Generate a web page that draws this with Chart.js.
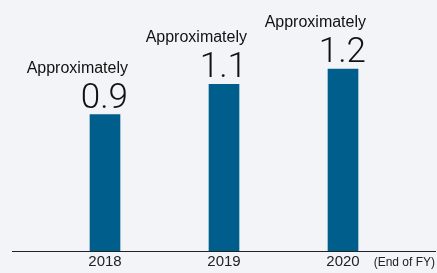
<!DOCTYPE html>
<html>
<head>
<meta charset="utf-8">
<script src="https://cdn.jsdelivr.net/npm/chart.js@4"></script>
<style>
  html, body { margin: 0; padding: 0; background: #f3f4f7; }
  #wrap { width: 437px; height: 273px; }
</style>
</head>
<body>
<div id="wrap"><canvas id="chart"></canvas></div>
<script>
const years = [2018, 2019, 2020];
const values = [0.9, 1.1, 1.2];
const valueLabels = ["0.9", "1.1", "1.2"];
const prefixLabel = "Approximately";
const unitNote = "(End of FY)";

const barColor = "#005e8c";
const bgColor = "#f3f4f7";

// plain background behind the chart
const background = {
  id: "background",
  beforeDraw(chart) {
    const ctx = chart.ctx;
    ctx.save();
    ctx.fillStyle = bgColor;
    ctx.fillRect(0, 0, chart.width, chart.height);
    ctx.restore();
  }
};

// "Approximately" + big number above each bar, and the unit note
const valueLabelPlugin = {
  id: "valueLabels",
  afterDatasetsDraw(chart) {
    const ctx = chart.ctx;
    const meta = chart.getDatasetMeta(0);
    ctx.save();
    ctx.fillStyle = "#111";
    ctx.textAlign = "right";
    ctx.textBaseline = "alphabetic";
    meta.data.forEach((bar, i) => {
      const right = bar.x + 23;
      ctx.font = '300 35px Roboto';
      ctx.fillText(valueLabels[i], right, bar.y - 7);
      ctx.font = '16px "Liberation Sans"';
      ctx.fillText(prefixLabel, right, bar.y - 42);
    });
    const xs = chart.scales.x;
    ctx.font = '12px "Liberation Sans"';
    ctx.fillStyle = "#222";
    ctx.fillText(unitNote, xs.right, xs.top + 15);
    ctx.restore();
  }
};

new Chart(document.getElementById("chart"), {
  type: "bar",
  data: {
    datasets: [{
      data: years.map((y, i) => ({ x: y, y: values[i] })),
      backgroundColor: barColor,
      borderWidth: 0,
      barThickness: 30
    }]
  },
  plugins: [background, valueLabelPlugin],
  options: {
    responsive: true,
    maintainAspectRatio: false,
    animation: false,
    layout: {
      padding: { top: 1, left: 12, right: 2, bottom: 0 }
    },
    plugins: {
      legend: { display: false },
      tooltip: { enabled: false }
    },
    scales: {
      x: {
        type: "linear",
        offset: false,
        min: 2018 - 93 / 119,
        max: 2018 - 93 / 119 + 423 / 119,
        grid: { display: false },
        border: { display: true, color: "#222", width: 1 },
        afterFit: (scale) => { scale.height = 22; },
        ticks: {
          stepSize: 1,
          includeBounds: false,
          autoSkip: false,
          maxRotation: 0,
          padding: -6,
          color: "#222",
          font: { family: "'Liberation Sans'", size: 15 },
          callback: (v) => String(v)
        }
      },
      y: {
        display: false,
        min: 0,
        max: 1.65
      }
    }
  }
});
</script>
</body>
</html>
